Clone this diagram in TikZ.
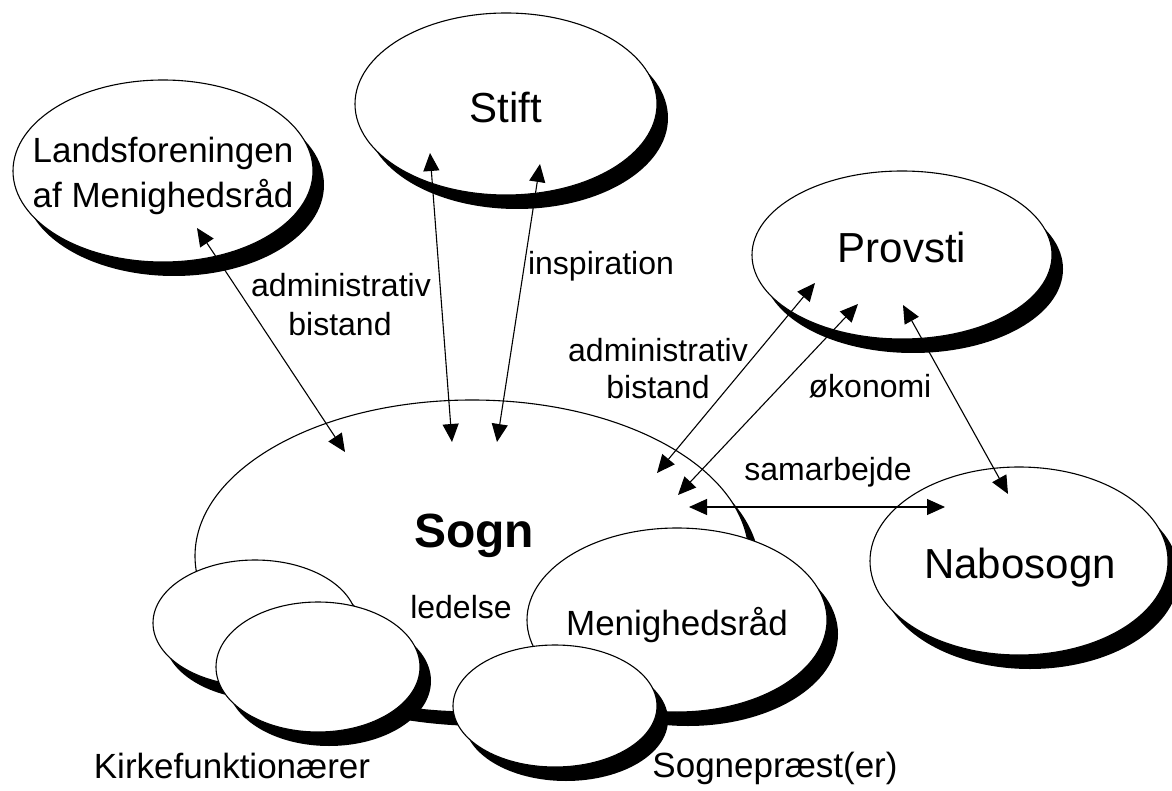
\documentclass[tikz,border=0pt]{standalone}
\usepackage{fontspec}
\setmainfont{Liberation Sans}
\usetikzlibrary{shapes.geometric,shadows,arrows.meta}
\begin{document}
\begin{tikzpicture}[x=1pt,y=-1pt,
  bubble/.style={ellipse, draw=black, fill=white, line width=1.1pt, inner sep=0pt,
    drop shadow={shadow xshift=11pt, shadow yshift=-14pt, opacity=1, fill=black}},
  lbl/.style={anchor=base, inner sep=0pt, font=\fontsize{32}{38}\selectfont},
  mid/.style={anchor=base, inner sep=0pt, font=\fontsize{35}{42}\selectfont},
  big/.style={anchor=base, inner sep=0pt, font=\fontsize{42}{50}\selectfont},
  link/.style={line width=1.1pt, {Triangle[length=18pt,width=16pt]}-{Triangle[length=18pt,width=16pt]}}]
\fill[white] (0,0) rectangle (1172,791);
\useasboundingbox (0,0) rectangle (1172,791);

% outer ellipses
\node[bubble, minimum width=300pt, minimum height=182pt] (lands) at (163,171) {};
\node[bubble, minimum width=302pt, minimum height=182pt] (stift) at (506,104) {};
\node[bubble, minimum width=300pt, minimum height=168pt] (provsti) at (902,255) {};
\node[bubble, minimum width=298pt, minimum height=188pt] (nabo) at (1019,561) {};

% Sogn cluster
\node[bubble, minimum width=554pt, minimum height=312pt] (sogn) at (472,556) {};
\node[bubble, minimum width=204pt, minimum height=126pt] (kirke1) at (255,623) {};
\node[bubble, minimum width=204pt, minimum height=130pt] (kirke2) at (318,667) {};
\node[bubble, minimum width=300pt, minimum height=184pt] (menig) at (677,620) {};
\node[bubble, minimum width=204pt, minimum height=122pt] (praest) at (555,706) {};

% texts
\node[mid] (landsA) at (163,163) {Landsforeningen};
\node[mid] (landsB) at (163,208) {af Menighedsråd};
\node[big] (stiftT) at (506,123) {Stift};
\node[big] (provstiT) at (902,263) {Provsti};
\node[big] (naboT) at (1020,578) {Nabosogn};
\node[anchor=base, inner sep=0pt, font=\fontsize{48}{56}\selectfont\bfseries] (sognT) at (474,547) {Sogn};
\node[lbl] (ledelse) at (461,618) {ledelse};
\node[mid] (menigT) at (677,635) {Menighedsråd};
\node[mid] (kirkeT) at (232,778) {Kirkefunktionærer};
\node[mid] (praestT) at (775,777) {Sognepræst(er)};

\node[lbl] (admA1) at (341,297) {administrativ};
\node[lbl] (admA2) at (340,336) {bistand};
\node[lbl] (insp) at (601,275) {inspiration};
\node[lbl] (admB1) at (658,362) {administrativ};
\node[lbl] (admB2) at (658,398) {bistand};
\node[lbl] (okon) at (870,397) {økonomi};
\node[lbl] (samarb) at (828,480) {samarbejde};

% connector end points
\coordinate (lsTop) at (197,228);
\coordinate (lsBot) at (345,452);
\coordinate (stATop) at (430,153);
\coordinate (stABot) at (452,442);
\coordinate (stBTop) at (540,164);
\coordinate (stBBot) at (497,442);
\coordinate (prATop) at (815,283);
\coordinate (prABot) at (657,473);
\coordinate (prBTop) at (858,304);
\coordinate (prBBot) at (678,495);
\coordinate (prCTop) at (903,305);
\coordinate (prCBot) at (1008,494);
\coordinate (saL) at (689,507);
\coordinate (saR) at (945,507);

\draw[link] (lsTop) -- (lsBot);
\draw[link] (stATop) -- (stABot);
\draw[link] (stBTop) -- (stBBot);
\draw[link] (prATop) -- (prABot);
\draw[link] (prBTop) -- (prBBot);
\draw[link] (prCTop) -- (prCBot);
\draw[link] (saL) -- (saR);
\end{tikzpicture}
\end{document}
